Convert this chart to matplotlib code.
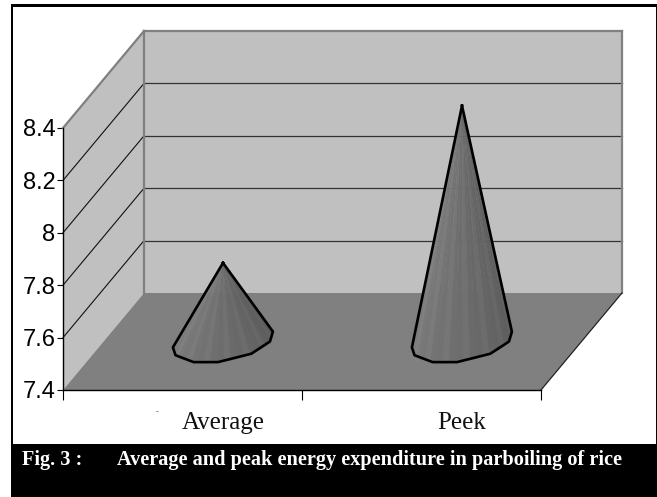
import numpy as np
import matplotlib
matplotlib.use("Agg")
import matplotlib.pyplot as plt
from matplotlib.patches import Rectangle

categories = ["Average", "Peek"]
values = [7.70, 8.30]
yticks = [7.4, 7.6, 7.8, 8.0, 8.2, 8.4]
ylabels = ["7.4", "7.6", "7.8", "8", "8.2", "8.4"]
caption_label = "Fig. 3 :"
caption_text = "Average and peak energy expenditure in parboiling of rice"

W, H = 657, 497
L, R, T, B = 63, 541, 128, 390      # front plane of the 3-D box, px
DX_PX, DY_PX = 81, 97               # depth offset of the back plane, px

fig = plt.figure(figsize=(W / 100, H / 100), dpi=100, facecolor="white")
ax = fig.add_axes([L / W, 1 - B / H, (R - L) / W, (B - T) / H], facecolor="none")
ax.set_xlim(0, 2)
ax.set_ylim(7.4, 8.4)
DX = DX_PX / (R - L) * 2
DY = DY_PX / (B - T) * 1.0


def proj(x, y, d):
    return x + d * DX, y + d * DY


def quad(pts, **kw):
    xs, ys = zip(*[proj(*p) for p in pts])
    ax.fill(xs, ys, clip_on=False, **kw)


LO, HI = yticks[0], yticks[-1]
GRAY = "#808080"
WALL = "#c0c0c0"
quad([(0, LO, 0), (0, HI, 0), (0, HI, 1), (0, LO, 1)], fc=WALL, ec="none", zorder=1)
quad([(0, LO, 1), (0, HI, 1), (2, HI, 1), (2, LO, 1)], fc=WALL, ec="none", zorder=1)
quad([(0, LO, 0), (0, LO, 1), (2, LO, 1), (2, LO, 0)], fc=GRAY, ec="none", zorder=2)

for v in yticks[1:-1]:
    x0, y0 = proj(0, v, 0)
    x1, y1 = proj(0, v, 1)
    x2, y2 = proj(2, v, 1)
    ax.plot([x0, x1], [y0, y1], color="#111111", lw=0.8, clip_on=False, zorder=3)
    ax.plot([x1, x2], [y1, y2], color="#333333", lw=0.9, clip_on=False, zorder=3)

# gray box edges
for a, b in [((0, HI, 0), (0, HI, 1)), ((0, HI, 1), (2, HI, 1)),
             ((0, HI, 1), (0, LO, 1)), ((2, HI, 1), (2, LO, 1))]:
    xa, ya = proj(*a)
    xb, yb = proj(*b)
    ax.plot([xa, xb], [ya, yb], color=GRAY, lw=1.6, clip_on=False, zorder=3)
xa, ya = proj(2, LO, 0)
xb, yb = proj(2, LO, 1)
ax.plot([xa, xb], [ya, yb], color="#222222", lw=0.9, clip_on=False, zorder=3)

# cones
RX = 47 / (R - L) * 2
RY = 0.22


def base_point(cx, t):
    u = RX * np.cos(t)
    d = 0.5 + RY * np.sin(t)
    return proj(cx, LO, 0)[0] + u + d * DX, LO + d * DY


arc_deg = [196, 220, 255, 285, 325, 360, 388]
for i, val in enumerate(values):
    cx = i + 0.5
    apex = proj(cx, val, 0.5)
    fine = np.radians(np.arange(196, 389, 8))
    for k in range(len(fine) - 1):
        f = k / (len(fine) - 2)
        shade = (0.50 - 0.15 * f) if k % 3 else (0.52 - 0.15 * f)
        p0 = base_point(cx, fine[k])
        p1 = base_point(cx, fine[k + 1])
        ax.fill([apex[0], p0[0], p1[0]], [apex[1], p0[1], p1[1]],
                fc=str(shade), ec=str(shade), lw=0.3, clip_on=False, zorder=4)
    pts = [base_point(cx, np.radians(a)) for a in arc_deg]
    xs = [apex[0]] + [p[0] for p in pts] + [apex[0]]
    ys = [apex[1]] + [p[1] for p in pts] + [apex[1]]
    ax.plot(xs, ys, color="black", lw=1.9, solid_joinstyle="round",
            clip_on=False, zorder=5)

for s in ("top", "right"):
    ax.spines[s].set_visible(False)
for s in ("left", "bottom"):
    ax.spines[s].set_color("black")
    ax.spines[s].set_linewidth(1.0)
    ax.spines[s].set_zorder(6)

ax.set_yticks(yticks)
ax.set_yticklabels(ylabels, family="Liberation Sans", fontsize=17, color="black")
ax.tick_params(axis="y", length=4, width=0.8, pad=1.5, color="black")
ax.set_xticks([0, 1, 2])
ax.set_xticklabels([])
ax.tick_params(axis="x", length=7.5, width=0.8, color="black")
for i, c in enumerate(categories):
    ax.annotate(c, (proj(i + 0.5, LO, 0.5)[0], 0), xycoords=("data", "axes fraction"),
                xytext=(0, -24), textcoords="offset points", ha="center", va="center",
                family="Liberation Serif", fontsize=18, color="#111111")

# frame and caption band
for rect in [(11, 4, W - 11, 2.5), (11, 4, 2, 440), (W - 1.5, 4, 1.5, 440), (11, 444, W - 11, 53)]:
    fig.add_artist(Rectangle((rect[0] / W, 1 - (rect[1] + rect[3]) / H), rect[2] / W, rect[3] / H,
                             transform=fig.transFigure, fc="black", ec="none", zorder=10))
fig.text(22 / W, 1 - 460.5 / H, caption_label, family="Liberation Serif", weight="bold",
         fontsize=14.6, color="white", va="center", ha="left", zorder=11)
fig.text(117 / W, 1 - 460.5 / H, caption_text, family="Liberation Serif", weight="bold",
         fontsize=14.6, color="white", va="center", ha="left", zorder=11)
fig.text(157 / W, 1 - 411.5 / H, "-", family="Liberation Sans", fontsize=6, color="#333333",
         ha="center", va="center")

fig.savefig("out.png", dpi=100)
